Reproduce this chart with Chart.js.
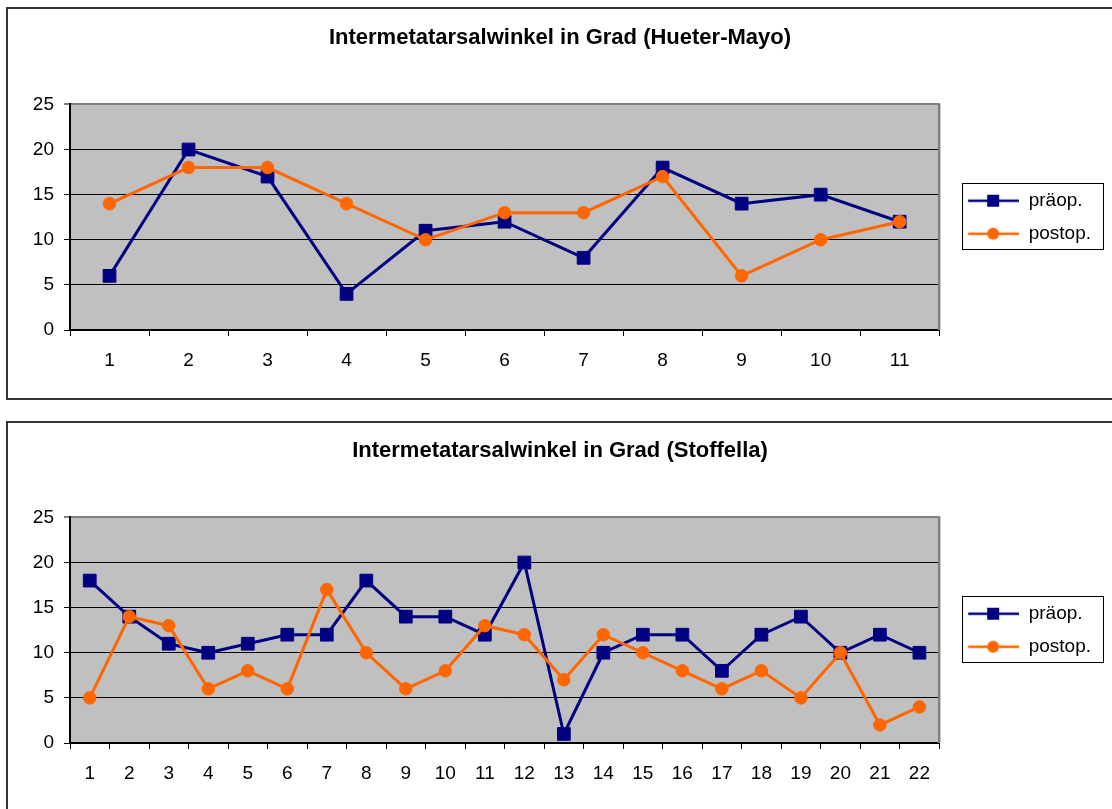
<!DOCTYPE html>
<html>
<head>
<meta charset="utf-8">
<title>Intermetatarsalwinkel in Grad</title>
<script src="https://cdn.jsdelivr.net/npm/chart.js@4.4.1/dist/chart.umd.min.js"></script>
<style>
  html, body { margin: 0; padding: 0; background: #fff; width: 1112px; height: 809px; overflow: hidden; }
  .frame { position: absolute; left: 6px; width: 1120px; border: 2px solid #333; box-sizing: border-box; }
  #frameA { top: 7px; height: 393px; }
  #frameB { top: 421px; height: 420px; }
  canvas { position: absolute; left: 0; }
  #chartA { top: 0; }
  #chartB { top: 413px; }
</style>
</head>
<body>
<div class="frame" id="frameA"></div>
<div class="frame" id="frameB"></div>
<canvas id="chartA" width="1112" height="400"></canvas>
<canvas id="chartB" width="1112" height="400"></canvas>
<script>
// Hueter-Mayo group: intermetatarsal angle per patient (degrees)
const hueterMayoCases = ['1', '2', '3', '4', '5', '6', '7', '8', '9', '10', '11'];
const hueterMayoPre  = [6, 20, 17, 4, 11, 12, 8, 18, 14, 15, 12];
const hueterMayoPost = [14, 18, 18, 14, 10, 13, 13, 17, 6, 10, 12];

// Stoffella group: intermetatarsal angle per patient (degrees)
const stoffellaCases = ['1', '2', '3', '4', '5', '6', '7', '8', '9', '10', '11',
                        '12', '13', '14', '15', '16', '17', '18', '19', '20', '21', '22'];
const stoffellaPre  = [18, 14, 11, 10, 11, 12, 12, 18, 14, 14, 12, 20, 1, 10, 12, 12, 8, 12, 14, 10, 12, 10];
const stoffellaPost = [5, 14, 13, 6, 8, 6, 17, 10, 6, 8, 13, 12, 7, 12, 10, 8, 6, 8, 5, 10, 2, 4];

// Shared value axis ticks
const angleTicks = [0, 5, 10, 15, 20, 25];

const seriesNames = ['präop.', 'postop.'];
const titles = ['Intermetatarsalwinkel in Grad (Hueter-Mayo)', 'Intermetatarsalwinkel in Grad (Stoffella)'];

const FONT = "'Liberation Sans', Arial, Helvetica, sans-serif";
const NAVY = '#000080';
const ORANGE = '#FF6600';

// Legend symbol: a short line with the series marker on it
function legendIcon(color, shape) {
  const c = document.createElement('canvas');
  c.width = 66; c.height = 14;
  const g = c.getContext('2d');
  g.strokeStyle = color;
  g.lineWidth = 2.5;
  g.beginPath(); g.moveTo(15, 7); g.lineTo(66, 7); g.stroke();
  g.fillStyle = color;
  if (shape === 'rect') {
    g.fillRect(34, 1, 12, 12);
  } else {
    g.beginPath(); g.arc(40, 7, 6, 0, Math.PI * 2); g.fill();
  }
  return c;
}
const legendIcons = [legendIcon(NAVY, 'rect'), legendIcon(ORANGE, 'circle')];

// Grey plot background and grey right edge of the plot area
const plotFrame = {
  id: 'plotFrame',
  beforeDraw(chart) {
    const { ctx, chartArea: a } = chart;
    ctx.save();
    ctx.fillStyle = '#C0C0C0';
    ctx.fillRect(a.left, a.top, a.right - a.left, a.bottom - a.top);
    ctx.restore();
  },
  beforeDatasetsDraw(chart) {
    const { ctx, chartArea: a } = chart;
    ctx.save();
    ctx.strokeStyle = '#808080';
    ctx.lineWidth = 2.5;
    ctx.beginPath();
    ctx.moveTo(a.right, a.top - 1);
    ctx.lineTo(a.right, a.bottom);
    ctx.stroke();
    ctx.restore();
  }
};

// Thin black box around the legend entries
const legendFrame = {
  id: 'legendFrame',
  afterDraw(chart) {
    const hb = chart.legend && chart.legend.legendHitBoxes;
    if (!hb || !hb.length) return;
    const first = hb[0], last = hb[hb.length - 1];
    let right = 0;
    hb.forEach(h => { right = Math.max(right, h.left + h.width); });
    const x0 = Math.round(first.left + 9) + 0.5;
    const y0 = Math.round(first.top - 8) + 0.5;
    const x1 = Math.round(right + 12) + 0.5;
    const y1 = Math.round(last.top + last.height + 6) + 0.5;
    const ctx = chart.ctx;
    ctx.save();
    ctx.strokeStyle = '#000';
    ctx.lineWidth = 1;
    ctx.strokeRect(x0, y0, x1 - x0, y1 - y0);
    ctx.restore();
  }
};

function buildChart(canvasId, title, labels, pre, post) {
  return new Chart(document.getElementById(canvasId), {
    type: 'line',
    data: {
      labels: labels,
      datasets: [
        {
          label: seriesNames[0], data: pre,
          borderColor: NAVY, backgroundColor: NAVY, borderWidth: 3,
          pointStyle: 'rect', pointRadius: 9, pointBorderWidth: 1,
          pointBackgroundColor: NAVY, pointBorderColor: NAVY,
          tension: 0, order: 2
        },
        {
          label: seriesNames[1], data: post,
          borderColor: ORANGE, backgroundColor: ORANGE, borderWidth: 3,
          pointStyle: 'circle', pointRadius: 6.25, pointBorderWidth: 1,
          pointBackgroundColor: ORANGE, pointBorderColor: ORANGE,
          tension: 0, order: 1
        }
      ]
    },
    options: {
      responsive: false,
      animation: false,
      devicePixelRatio: 1,
      events: [],
      layout: { padding: { left: 19, right: 11, top: 0, bottom: 20 } },
      plugins: {
        title: {
          display: true, text: title, color: '#000',
          font: { family: FONT, size: 22, weight: 'bold' },
          padding: { top: 25, bottom: 53 }
        },
        legend: {
          display: true, position: 'right', align: 'center', fullSize: false,
          labels: {
            usePointStyle: true, pointStyleWidth: 66, padding: 14,
            color: '#000', font: { family: FONT, size: 19 },
            generateLabels(chart) {
              const items = Chart.defaults.plugins.legend.labels.generateLabels(chart);
              items.forEach(it => { it.pointStyle = legendIcons[it.datasetIndex]; });
              return items;
            },
            sort: (a, b) => a.datasetIndex - b.datasetIndex
          }
        },
        tooltip: { enabled: false }
      },
      scales: {
        x: {
          type: 'category', offset: true,
          grid: { offset: true, drawOnChartArea: false, drawTicks: true, tickLength: 6, color: '#000', lineWidth: 1 },
          border: { color: '#000', width: 2 },
          ticks: { color: '#000', font: { family: FONT, size: 19 }, padding: 13, autoSkip: false, maxRotation: 0, minRotation: 0 },
          afterFit(scale) { scale.height = 50; }
        },
        y: {
          min: angleTicks[0], max: angleTicks[angleTicks.length - 1],
          afterBuildTicks(scale) { scale.ticks = angleTicks.map(v => ({ value: v })); },
          grid: {
            color: c => (c.tick && c.tick.value === 25) ? '#808080' : '#000',
            lineWidth: c => (c.tick && c.tick.value === 25) ? 2 : 1,
            tickColor: '#000', tickWidth: 1, tickLength: 6
          },
          border: { color: '#000', width: 2 },
          ticks: { color: '#000', font: { family: FONT, size: 19 }, padding: 10 },
          afterFit(scale) { scale.width = 51; }
        }
      }
    },
    plugins: [plotFrame, legendFrame]
  });
}

buildChart('chartA', titles[0], hueterMayoCases, hueterMayoPre, hueterMayoPost);
buildChart('chartB', titles[1], stoffellaCases, stoffellaPre, stoffellaPost);
</script>
</body>
</html>
